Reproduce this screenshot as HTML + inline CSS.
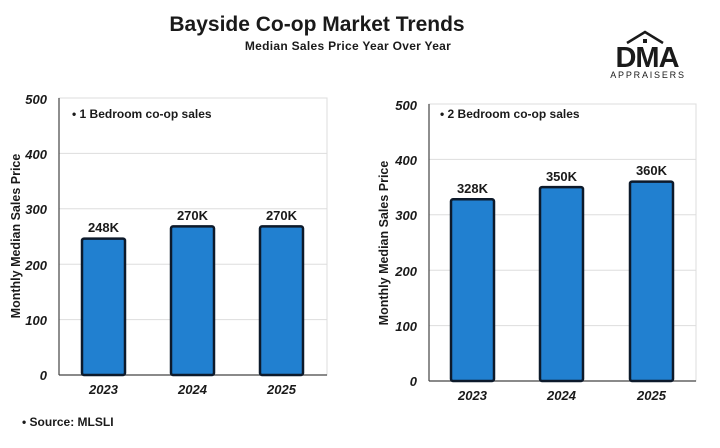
<!DOCTYPE html>
<html><head><meta charset="utf-8"><style>
html,body{margin:0;padding:0;background:#fff;}
svg{display:block;}
</style></head><body>
<svg width="720" height="448" viewBox="0 0 720 448" xmlns="http://www.w3.org/2000/svg" font-family="Liberation Sans, sans-serif">
<rect width="720" height="448" fill="#fff"/>
<text x="317" y="31" text-anchor="middle" font-size="21" font-weight="bold" fill="#1a1a1a">Bayside Co-op Market Trends</text>
<text x="348" y="50" text-anchor="middle" font-size="12" font-weight="bold" fill="#1a1a1a" letter-spacing="0.3">Median Sales Price Year Over Year</text>
<g fill="#1a1a1a">
<path d="M627 43 L645 32 L663 43" fill="none" stroke="#1a1a1a" stroke-width="2.5"/>
<rect x="643" y="39" width="4" height="4"/>
<text x="647" y="67" text-anchor="middle" font-size="29" font-weight="bold" letter-spacing="-1">DMA</text>
<text x="648" y="78" text-anchor="middle" font-size="9" letter-spacing="1.8">APPRAISERS</text>
</g>
<g>
<rect x="59" y="98" width="268" height="277" fill="#fff" stroke="#ddd"/>
<g stroke="#ddd" stroke-width="1">
<line x1="59" y1="153.4" x2="327" y2="153.4"/><line x1="59" y1="208.8" x2="327" y2="208.8"/>
<line x1="59" y1="264.2" x2="327" y2="264.2"/><line x1="59" y1="319.6" x2="327" y2="319.6"/>
</g>
<line x1="59" y1="98" x2="59" y2="375" stroke="#444" stroke-width="1.2"/>
<line x1="59" y1="375" x2="327" y2="375" stroke="#444" stroke-width="1.2"/>
<g font-size="13" font-weight="bold" font-style="italic" text-anchor="end" fill="#1a1a1a">
<text x="47" y="104">500</text><text x="47" y="159">400</text><text x="47" y="214">300</text>
<text x="47" y="270">200</text><text x="47" y="325">100</text><text x="47" y="380">0</text>
</g>
<text transform="translate(20 236) rotate(-90)" text-anchor="middle" font-size="12.5" font-weight="bold" fill="#1a1a1a">Monthly Median Sales Price</text>
<text x="72" y="118" font-size="12" font-weight="bold" fill="#1a1a1a">• 1 Bedroom co-op sales</text>
<g fill="#2180d0" stroke="#0d1a2b" stroke-width="2.5">
<rect x="82" y="238.6" width="43" height="136.4" rx="2"/>
<rect x="171" y="226.4" width="43" height="148.6" rx="2"/>
<rect x="260" y="226.4" width="43" height="148.6" rx="2"/>
</g>
<g font-size="13" font-weight="bold" text-anchor="middle" fill="#1a1a1a">
<text x="103.5" y="232">248K</text><text x="192.5" y="220">270K</text><text x="281.5" y="220">270K</text>
</g>
<g font-size="13" font-weight="bold" font-style="italic" text-anchor="middle" fill="#1a1a1a">
<text x="103.5" y="394">2023</text><text x="192.5" y="394">2024</text><text x="281.5" y="394">2025</text>
</g>
</g>
<g>
<rect x="429" y="104" width="267" height="277" fill="#fff" stroke="#ddd"/>
<g stroke="#ddd" stroke-width="1">
<line x1="429" y1="159.4" x2="696" y2="159.4"/><line x1="429" y1="214.8" x2="696" y2="214.8"/>
<line x1="429" y1="270.2" x2="696" y2="270.2"/><line x1="429" y1="325.6" x2="696" y2="325.6"/>
</g>
<line x1="429" y1="104" x2="429" y2="381" stroke="#444" stroke-width="1.2"/>
<line x1="429" y1="381" x2="696" y2="381" stroke="#444" stroke-width="1.2"/>
<g font-size="13" font-weight="bold" font-style="italic" text-anchor="end" fill="#1a1a1a">
<text x="417" y="110">500</text><text x="417" y="165">400</text><text x="417" y="220">300</text>
<text x="417" y="276">200</text><text x="417" y="331">100</text><text x="417" y="386">0</text>
</g>
<text transform="translate(388 243) rotate(-90)" text-anchor="middle" font-size="12.5" font-weight="bold" fill="#1a1a1a">Monthly Median Sales Price</text>
<text x="440" y="118" font-size="12" font-weight="bold" fill="#1a1a1a">• 2 Bedroom co-op sales</text>
<g fill="#2180d0" stroke="#0d1a2b" stroke-width="2.5">
<rect x="451" y="199.3" width="43" height="181.7" rx="2"/>
<rect x="540" y="187.1" width="43" height="193.9" rx="2"/>
<rect x="630" y="181.6" width="43" height="199.4" rx="2"/>
</g>
<g font-size="13" font-weight="bold" text-anchor="middle" fill="#1a1a1a">
<text x="472.5" y="193">328K</text><text x="561.5" y="181">350K</text><text x="651.5" y="175">360K</text>
</g>
<g font-size="13" font-weight="bold" font-style="italic" text-anchor="middle" fill="#1a1a1a">
<text x="472.5" y="400">2023</text><text x="561.5" y="400">2024</text><text x="651.5" y="400">2025</text>
</g>
</g>
<text x="22" y="426" font-size="12" font-weight="bold" fill="#1a1a1a">• Source: MLSLI</text>
</svg>
</body></html>
